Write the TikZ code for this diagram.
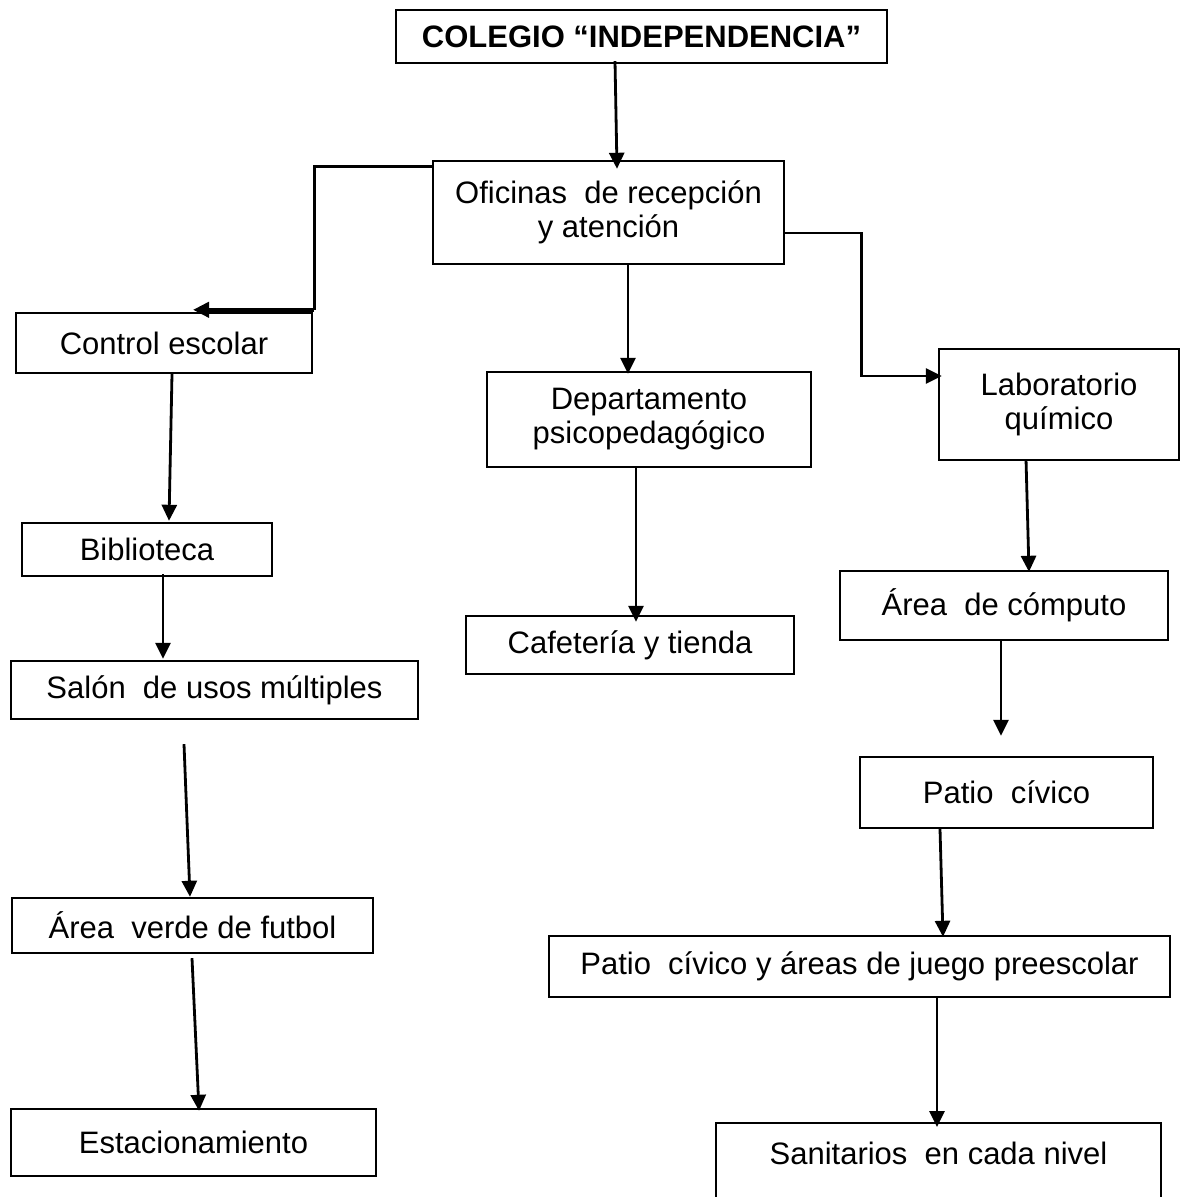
\documentclass[tikz,border=0pt]{standalone}
\usepackage{fontspec}
\setmainfont{Liberation Sans}
\usetikzlibrary{arrows.meta,calc}

\begin{document}
\begin{tikzpicture}[
      x=0.5pt, y=-0.5pt,
      every node/.style={draw, line width=1.2pt, inner sep=0pt, align=center,
        font=\fontsize{15.5}{17}\selectfont},
      ->, >={Triangle[length=8pt,width=7.5pt]}, line width=1.4pt
  ]
  \useasboundingbox (0,0) rectangle (1182,1197);
  \clip (0,0) rectangle (1182,1197);

  % Boxes
  \node[minimum width=245.5pt, minimum height=26.5pt] (colegio) at (641.5,36.5) {\textbf{COLEGIO “INDEPENDENCIA”}};
  \node[minimum width=175.5pt, minimum height=51.5pt] (oficinas) at (608.5,212.5) {Oficinas\ \ de recepción\\ y atención};
  \node[minimum width=148pt, minimum height=30pt] (control) at (164,343) {Control escolar};
  \node[minimum width=162pt, minimum height=47.5pt] (depto) at (649,419.5) {Departamento\\ psicopedagógico};
  \node[minimum width=120pt, minimum height=55.5pt] (lab) at (1059,404.5) {Laboratorio\\ químico};
  \node[minimum width=125pt, minimum height=26.5pt] (biblio) at (147,549.5) {Biblioteca};
  \node[minimum width=164pt, minimum height=29pt] (cafe) at (630,645) {Cafetería y tienda};
  \node[minimum width=164pt, minimum height=34.5pt] (computo) at (1004,605.5) {Área\ \ de cómputo};
  \node[minimum width=203.5pt, minimum height=29pt] (salon) at (214.5,690) {Salón\ \ de usos múltiples};
  \node[minimum width=146.5pt, minimum height=35.5pt] (patio) at (1006.5,792.5) {Patio\ \ cívico};
  \node[minimum width=180.5pt, minimum height=27.5pt] (verde) at (192.5,925.5) {Área\ \ verde de futbol};
  \node[minimum width=310.5pt, minimum height=30.5pt] (preescolar) at (859.5,966.5) {Patio\ \ cívico y áreas de juego preescolar};
  \node[minimum width=182.5pt, minimum height=33.5pt] (estac) at (193.5,1142.5) {Estacionamiento};
  \node[minimum width=222.5pt, text height=20.5pt, text depth=25pt, anchor=north] (sanitarios) at (938.5,1122) {Sanitarios\ \ en cada nivel};

  % Arrows
  \draw ($(colegio.south)+(-26.5,-3)$) -- ($(oficinas.north)+(8.5,9)$);
  \draw[-] ($(oficinas.north west)+(0,7)$) -| ($(control.north east)+(1,-2)$);
  \draw[line width=2pt] ($(control.north east)+(1,-2)$) -- ($(control.north)+(29,-2)$);
  \draw ($(oficinas.south)+(19.5,-2)$) -- ($(depto.north)+(-21,3)$);
  \draw ($(oficinas.east)+(0,20.5)$) -| ($(lab.west)+(-76,-28.5)$) -- ($(lab.west)+(4,-28.5)$);
  \draw ($(control.south)+(8,0)$) -- ($(biblio.north)+(22,-1)$);
  \draw ($(biblio.south)+(16,-3)$) -- ($(salon.north)+(-51.5,-1)$);
  \draw ($(salon.south)+(-30.5,24)$) -- ($(verde.north)+(-2.5,0)$);
  \draw ($(verde.south)+(-0.5,4)$) -- ($(estac.north)+(5.5,3)$);
  \draw ($(depto.south)+(-13,-2)$) -- ($(cafe.north)+(6,7)$);
  \draw ($(lab.south)+(-33,-2)$) -- ($(computo.north)+(25,2)$);
  \draw ($(computo.south)+(-3,0)$) -- ($(patio.north)+(-5.5,-20)$);
  \draw ($(patio.south)+(-66.5,0)$) -- ($(preescolar.north)+(83.5,2)$);
  \draw ($(preescolar.south)+(77.5,0)$) -- ($(sanitarios.north)+(-1.5,5)$);

\end{tikzpicture}
\end{document}
